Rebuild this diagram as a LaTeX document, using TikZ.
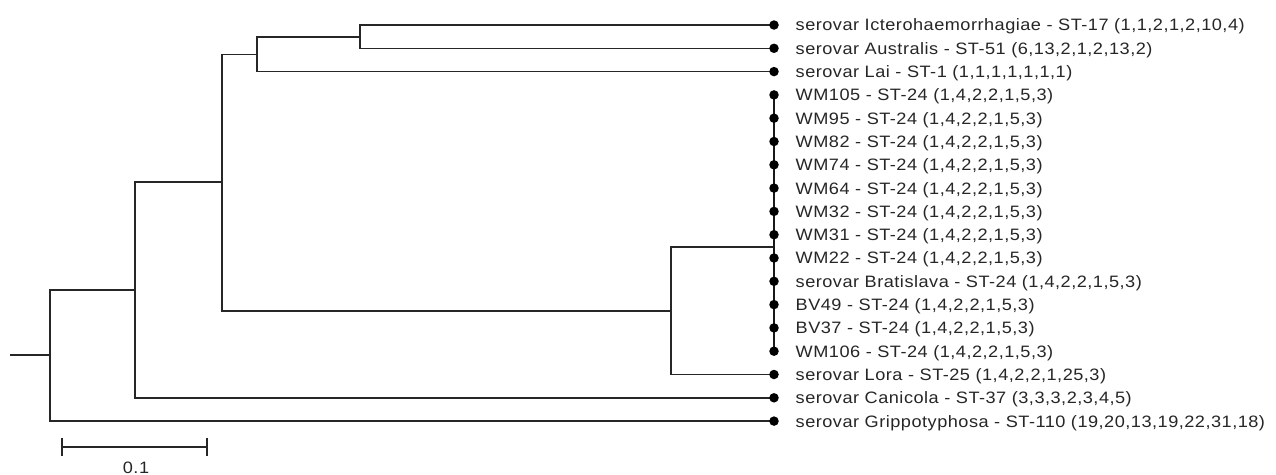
\documentclass[tikz,border=0pt]{standalone}
\usepackage{fontspec}
\setmainfont{Liberation Sans}[FakeStretch=1.1,LetterSpace=3]
\begin{document}
\begin{tikzpicture}[x=1pt,y=-1pt,
  branch/.style={line width=1.6pt,black!85},
  polytomy/.style={line width=2.4pt,black!90},
  tip/.style={circle,fill=black,inner sep=0pt,minimum size=9.5pt},
  lab/.style={anchor=base west,inner sep=0pt,font=\fontsize{16.5pt}{18pt}\selectfont,text=black!85},
]
\useasboundingbox (0,0) rectangle (1276,474);

% internal nodes of the tree
\coordinate (r0) at (10,355);
\coordinate (n0) at (50,355);
\coordinate (n1) at (135,290);
\coordinate (n2) at (222,182);
\coordinate (n3) at (257,54.5);
\coordinate (n4) at (360,36.7);
\coordinate (n5) at (671,311);
\coordinate (n6) at (774,247);

% tips
\def\tx{774}
\coordinate (d1) at (\tx,25);
\coordinate (d2) at (\tx,48.3);
\coordinate (d3) at (\tx,71.6);
\coordinate (d4) at (\tx,94.9);
\coordinate (d5) at (\tx,118.2);
\coordinate (d6) at (\tx,141.5);
\coordinate (d7) at (\tx,164.8);
\coordinate (d8) at (\tx,188.1);
\coordinate (d9) at (\tx,211.4);
\coordinate (d10) at (\tx,234.7);
\coordinate (d11) at (\tx,258);
\coordinate (d12) at (\tx,281.3);
\coordinate (d13) at (\tx,304.6);
\coordinate (d14) at (\tx,327.9);
\coordinate (d15) at (\tx,351.2);
\coordinate (d16) at (\tx,374.5);
\coordinate (d17) at (\tx,397.8);
\coordinate (d18) at (\tx,421.1);

% branches
\draw[branch] (r0) -- (n0);
\draw[branch] (n0) |- (n1);
\draw[branch] (n0) |- (d18);
\draw[branch] (n1) |- (n2);
\draw[branch] (n1) |- (d17);
\draw[branch] (n2) |- (n3);
\draw[branch] (n2) |- (n5);
\draw[branch] (n3) |- (n4);
\draw[branch] (n3) |- (d3);
\draw[branch] (n4) |- (d1);
\draw[branch] (n4) |- (d2);
\draw[branch] (n5) |- (n6);
\draw[branch] (n5) |- (d16);
\draw[polytomy] (d4) -- (d15);

% tip markers and labels
\foreach \i/\t in {
  1/{serovar Icterohaemorrhagiae - ST-17 (1,1,2,1,2,10,4)},
  2/{serovar Australis - ST-51 (6,13,2,1,2,13,2)},
  3/{serovar Lai - ST-1 (1,1,1,1,1,1,1)},
  4/{WM105 - ST-24 (1,4,2,2,1,5,3)},
  5/{WM95 - ST-24 (1,4,2,2,1,5,3)},
  6/{WM82 - ST-24 (1,4,2,2,1,5,3)},
  7/{WM74 - ST-24 (1,4,2,2,1,5,3)},
  8/{WM64 - ST-24 (1,4,2,2,1,5,3)},
  9/{WM32 - ST-24 (1,4,2,2,1,5,3)},
  10/{WM31 - ST-24 (1,4,2,2,1,5,3)},
  11/{WM22 - ST-24 (1,4,2,2,1,5,3)},
  12/{serovar Bratislava - ST-24 (1,4,2,2,1,5,3)},
  13/{BV49 - ST-24 (1,4,2,2,1,5,3)},
  14/{BV37 - ST-24 (1,4,2,2,1,5,3)},
  15/{WM106 - ST-24 (1,4,2,2,1,5,3)},
  16/{serovar Lora - ST-25 (1,4,2,2,1,25,3)},
  17/{serovar Canicola - ST-37 (3,3,3,2,3,4,5)},
  18/{serovar Grippotyphosa - ST-110 (19,20,13,19,22,31,18)}}{
  \node[tip] (tip\i) at (d\i) {};
  \node[lab] (name\i) at ([xshift=21.5pt,yshift=-5.9pt]d\i) {\t};
}

% scale bar
\coordinate (s0) at (62,447);
\coordinate (s1) at (207,447);
\draw[branch] (s0) -- (s1);
\draw[branch] ([yshift=9pt]s0) -- ([yshift=-9pt]s0);
\draw[branch] ([yshift=9pt]s1) -- ([yshift=-9pt]s1);
\node[lab,anchor=base] (scale) at (136,473) {0.1};
\end{tikzpicture}
\end{document}
